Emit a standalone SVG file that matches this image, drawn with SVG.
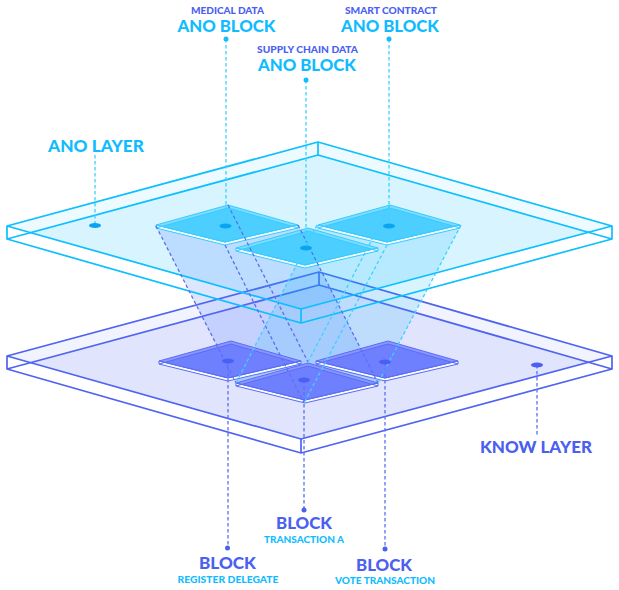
<svg xmlns="http://www.w3.org/2000/svg" xmlns:xlink="http://www.w3.org/1999/xlink" width="619" height="590" viewBox="0 0 619 590">
<style>
text{font-family:"Lato","Liberation Sans",sans-serif;font-weight:900}
.c{fill:#10bcff}.b{fill:#4a60f0}
.big{font-size:17px}.sm{font-size:10px}
.cy{color:#0cbfff;--a:#7ddcff;--i:#4ccfff;--e:#35cbff}
.bl{color:#4f63f0;--a:#8a96ff;--i:#6f80ff;--e:#5a6cf5}
.ln{fill:none;stroke:currentColor;stroke-width:1.7;stroke-linejoin:round}
.dc{fill:none;stroke:#3fd0ff;stroke-width:1.3;stroke-dasharray:3.500 2.500}
.db{fill:none;stroke:#5a70f2;stroke-width:1.3;stroke-dasharray:3.500 2.500}
.f{fill:var(--a)}
.fi{fill:var(--i)}
.s{fill:#fff;fill-opacity:.92}
.e{fill:none;stroke:var(--e);stroke-width:1;stroke-linejoin:round}
</style>
<defs>
<g id="blk">
<polygon class="f" points="0,0 72,-20 142,0 69,17"/>
<polygon class="fi" points="5.700,1.400 72,-17 136.200,1.350 69,17"/>
<polygon class="s" points="0,0 69,17 142,0 142,3 69,20 0,3"/>
<polygon class="e" points="0,0 72,-20 142,0 69,17"/>
<polyline class="e" points="0,3 72,-17 142,3"/>
<polygon class="e" points="0,0 69,17 142,0 142,3 69,20 0,3"/>
</g>
</defs>

<g id="know-layer" class="bl">
<polygon fill="#4f63f5" fill-opacity=".08" points="7,356 319,272 612,356 301,439"/>
<polygon fill="#4f63f5" fill-opacity=".1" points="30.500,362.600 319,285 588.500,362.400 301,439"/>
<polyline class="ln" points="7,369 319,285 612,369"/>
<polygon class="ln" points="7,356 319,272 612,356 612,369 301,453 7,369"/>
<polyline class="ln" points="7,356 301,439 612,356"/>
<line class="ln" x1="319" y1="272" x2="319" y2="285"/>
<line class="ln" x1="301" y1="439" x2="301" y2="453"/>
</g>

<g id="ano-layer-fill">
<polygon fill="#00bfff" fill-opacity=".07" points="7,226 318,142 612,226 301,309"/>
<polygon fill="#00bfff" fill-opacity=".09" points="30.500,232.600 318,155 588.500,232.300 301,309"/>
</g>

<g id="beams">
<polygon fill="#4a78ff" fill-opacity=".19" points="156,226 225,245 298,225 378,383 304,403 236,383"/>
<polygon fill="#00b8ff" fill-opacity=".15" points="317,225 387,245 461,225 378,383 304,403 236,383"/>
</g>

<g id="ano-layer" class="cy">
<polyline class="ln" points="7,239 318,155 612,239"/>
<polygon class="ln" points="7,226 318,142 612,226 612,239 301,323 7,239"/>
<polyline class="ln" points="7,226 301,309 612,226"/>
<line class="ln" x1="318" y1="142" x2="318" y2="155"/>
<line class="ln" x1="301" y1="309" x2="301" y2="323"/>
</g>

<g id="block-register" class="bl"><use xlink:href="#blk" href="#blk" transform="translate(159,361)"/></g>
<g id="block-vote" class="bl"><use xlink:href="#blk" href="#blk" transform="translate(316,361)"/></g>
<g id="block-transaction" class="bl"><use xlink:href="#blk" href="#blk" transform="translate(236,383)"/></g>
<g id="block-medical" class="cy"><use xlink:href="#blk" href="#blk" transform="translate(156,225)"/></g>
<g id="block-smart" class="cy"><use xlink:href="#blk" href="#blk" transform="translate(318,225)"/></g>
<g id="block-supply" class="cy"><use xlink:href="#blk" href="#blk" transform="translate(236,248)"/></g>

<g id="connectors">
<path class="db" d="M156,226L236,383M225,245L304,403M228,205L308,362M298,225L378,383"/>
<path class="dc" d="M317,225L236,383M387,245L304,403M390,205L308,362M461,225L378,383"/>
<path class="dc" d="M226,39V226M389,39V226M306,80V248M95,155V225"/>
<path class="db" d="M228,361V548M304,380V510M385,362V549M537,365V435"/>
<g fill="#0aa5f2">
<ellipse cx="225.500" cy="226" rx="6" ry="2.500"/><ellipse cx="389" cy="226" rx="6" ry="2.500"/><ellipse cx="306" cy="248" rx="6" ry="2.500"/><ellipse cx="95" cy="225.500" rx="6" ry="2.500"/>
</g>
<g fill="#4a5ff5">
<ellipse cx="228" cy="361" rx="6" ry="2.500"/><ellipse cx="304" cy="380" rx="6" ry="2.500"/><ellipse cx="385" cy="362" rx="6" ry="2.500"/><ellipse cx="537" cy="365" rx="6" ry="2.500"/>
</g>
<g fill="#12bcff"><circle cx="226" cy="39" r="2.500"/><circle cx="389" cy="39" r="2.500"/><circle cx="306" cy="80" r="2.500"/></g>
<g fill="#4a60f0"><circle cx="227.500" cy="548" r="2.500"/><circle cx="304" cy="510" r="2.500"/><circle cx="385" cy="549" r="2.500"/></g>
</g>

<g id="labels" text-anchor="middle">
<text class="b sm" x="227.500" y="14" textLength="73" lengthAdjust="spacingAndGlyphs">MEDICAL DATA</text>
<text class="c big" x="226.500" y="32" textLength="98" lengthAdjust="spacingAndGlyphs">ANO BLOCK</text>
<text class="b sm" x="391" y="14" textLength="92" lengthAdjust="spacingAndGlyphs">SMART CONTRACT</text>
<text class="c big" x="390" y="32" textLength="98" lengthAdjust="spacingAndGlyphs">ANO BLOCK</text>
<text class="b sm" x="307.500" y="53" textLength="101" lengthAdjust="spacingAndGlyphs">SUPPLY CHAIN DATA</text>
<text class="c big" x="307" y="71" textLength="98" lengthAdjust="spacingAndGlyphs">ANO BLOCK</text>
<text class="c big" x="96" y="152" textLength="96" lengthAdjust="spacingAndGlyphs">ANO LAYER</text>
<text class="b big" x="536" y="453" textLength="112" lengthAdjust="spacingAndGlyphs">KNOW LAYER</text>
<text class="b big" x="304" y="529" textLength="56" lengthAdjust="spacingAndGlyphs">BLOCK</text>
<text class="c sm" x="304" y="542.500" textLength="80" lengthAdjust="spacingAndGlyphs">TRANSACTION A</text>
<text class="b big" x="227.500" y="569" textLength="57" lengthAdjust="spacingAndGlyphs">BLOCK</text>
<text class="c sm" x="228" y="582.500" textLength="101" lengthAdjust="spacingAndGlyphs">REGISTER DELEGATE</text>
<text class="b big" x="384" y="571" textLength="56" lengthAdjust="spacingAndGlyphs">BLOCK</text>
<text class="c sm" x="385" y="583.500" textLength="100" lengthAdjust="spacingAndGlyphs">VOTE TRANSACTION</text>
</g>
</svg>
